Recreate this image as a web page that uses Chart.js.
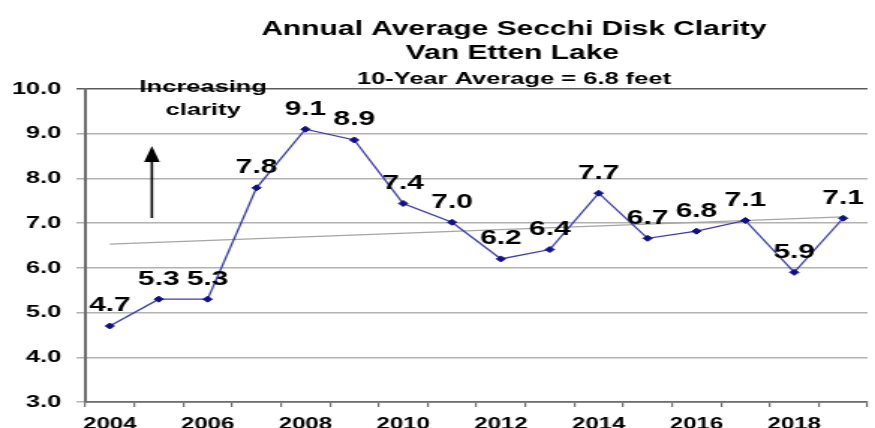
<!DOCTYPE html>
<html>
<head>
<meta charset="utf-8">
<title>Annual Average Secchi Disk Clarity - Van Etten Lake</title>
<script src="https://cdn.jsdelivr.net/npm/chart.js@4.4.1/dist/chart.umd.min.js"></script>
<style>
  html, body { margin: 0; padding: 0; background: #fff; overflow: hidden; }
  /* the source picture is stretched sideways, so draw narrow and stretch the same way */
  #wrap { width: 584px; height: 428px; transform: scaleX(1.4983); transform-origin: 0 0; }
</style>
</head>
<body>
<div id="wrap"><canvas id="secchiChart" width="584" height="428"></canvas></div>
<script>
const years = ['2004', '2005', '2006', '2007', '2008', '2009', '2010', '2011',
               '2012', '2013', '2014', '2015', '2016', '2017', '2018', '2019'];
const clarity = [4.70, 5.30, 5.30, 7.79, 9.10, 8.86, 7.44, 7.02,
                 6.20, 6.41, 7.67, 6.66, 6.82, 7.06, 5.90, 7.11];
const trend = [6.53, null, null, null, null, null, null, null,
               null, null, null, null, null, null, null, 7.14];
const yTicks = [3, 4, 5, 6, 7, 8, 9, 10];
const xTickLabels = ['2004', '', '2006', '', '2008', '', '2010', '',
                     '2012', '', '2014', '', '2016', '', '2018', ''];
const titleLines = ['Annual Average Secchi Disk Clarity', 'Van Etten Lake'];
const subtitle = '10-Year Average = 6.8 feet';

const FONT = '"Liberation Sans", Arial, sans-serif';
Chart.defaults.font.family = FONT;
Chart.defaults.color = '#000';

const overlay = {
    id: 'overlay',
    beforeDraw(chart) {
        const ctx = chart.ctx;
        ctx.save();
        ctx.fillStyle = '#fff';
        ctx.fillRect(0, 0, chart.width, chart.height);
        ctx.restore();
    },
    afterDatasetsDraw(chart) {
        const ctx = chart.ctx;
        const xs = chart.scales.x;
        const ys = chart.scales.y;
        const top = chart.chartArea.top;
        ctx.save();

        // value labels over the points
        ctx.fillStyle = '#000';
        ctx.textAlign = 'center';
        ctx.textBaseline = 'alphabetic';
        ctx.font = 'bold 20px ' + FONT;
        chart.getDatasetMeta(0).data.forEach((pt, i) => {
            ctx.fillText(clarity[i].toFixed(1), pt.x, pt.y - 14.5);
        });

        // titles
        ctx.font = 'bold 20px ' + FONT;
        ctx.fillText(titleLines[0], 343, 34.5);
        ctx.fillText(titleLines[1], 342, 58.5);
        ctx.font = 'bold 17px ' + FONT;
        ctx.fillText(subtitle, 343, 84);

        // "Increasing clarity" note with arrow
        const noteX = xs.getPixelForValue(1.91);
        ctx.font = 'bold 17px ' + FONT;
        ctx.fillText('Increasing', noteX, top + 3);
        ctx.fillText('clarity', noteX, top + 26);

        const ax = xs.getPixelForValue(0.86);
        const aTop = ys.getPixelForValue(8.725);
        const aBot = ys.getPixelForValue(7.115);
        ctx.strokeStyle = '#000';
        ctx.lineWidth = 1.6;
        ctx.beginPath();
        ctx.moveTo(ax, aBot);
        ctx.lineTo(ax, aTop + 12);
        ctx.stroke();
        ctx.fillStyle = '#000';
        ctx.beginPath();
        ctx.moveTo(ax, aTop);
        ctx.lineTo(ax - 5.2, aTop + 16);
        ctx.lineTo(ax + 5.2, aTop + 16);
        ctx.closePath();
        ctx.fill();

        ctx.restore();
    }
};

new Chart(document.getElementById('secchiChart'), {
    type: 'line',
    data: {
        labels: years,
        datasets: [{
            label: 'Secchi depth (feet)',
            data: clarity,
            borderColor: '#3c3cb0',
            borderWidth: 1.3,
            pointStyle: 'rectRot',
            pointRadius: 3,
            pointBackgroundColor: '#10108a',
            pointBorderColor: '#10108a',
            pointBorderWidth: 1,
            tension: 0
        }, {
            label: 'Trend',
            data: trend,
            spanGaps: true,
            borderColor: '#a6a6a6',
            borderWidth: 1.4,
            pointRadius: 0,
            tension: 0
        }]
    },
    options: {
        responsive: false,
        devicePixelRatio: 1,
        animation: false,
        events: [],
        layout: { padding: { top: 89, right: 1, left: 0, bottom: 0 } },
        plugins: {
            legend: { display: false },
            title: { display: false },
            tooltip: { enabled: false }
        },
        scales: {
            x: {
                offset: true,
                afterFit(scale) { scale.height = 26; },
                grid: {
                    offset: true,
                    drawOnChartArea: false,
                    drawTicks: true,
                    tickLength: 5,
                    color: '#6e6e6e',
                    lineWidth: 1.2
                },
                border: { color: '#6e6e6e', width: 1.8 },
                ticks: {
                    autoSkip: false,
                    maxRotation: 0,
                    padding: 8,
                    color: '#000',
                    font: { size: 16, weight: 'bold' },
                    callback: (val, i) => xTickLabels[i]
                }
            },
            y: {
                min: 3,
                max: 10,
                afterFit(scale) { scale.width = 57; },
                afterBuildTicks(scale) { scale.ticks = yTicks.map(v => ({ value: v })); },
                grid: {
                    color: ctx => (ctx.tick && ctx.tick.value === 10 ? '#5c5c5c' : '#b2b2b2'),
                    lineWidth: 1.5,
                    tickLength: 6
                },
                border: { color: '#6e6e6e', width: 2 },
                ticks: {
                    padding: 10,
                    color: '#000',
                    font: { size: 17, weight: 'bold' },
                    callback: v => Number(v).toFixed(1)
                }
            }
        }
    },
    plugins: [overlay]
});
</script>
</body>
</html>
